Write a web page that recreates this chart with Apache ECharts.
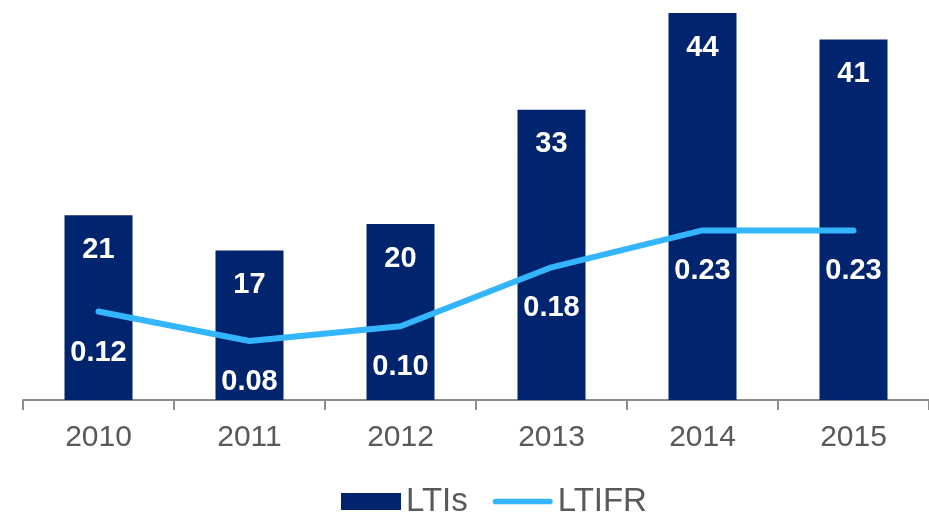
<!DOCTYPE html>
<html>
<head>
<meta charset="utf-8">
<script src="https://cdn.jsdelivr.net/npm/echarts@6/dist/echarts.min.js"></script>
<style>html,body{margin:0;padding:0;background:#fff;}#c{width:929px;height:514px;}</style>
</head>
<body>
<div id="c"></div>
<script>
const categories = ['2010', '2011', '2012', '2013', '2014', '2015'];
const ltis = [21, 17, 20, 33, 44, 41];
const ltifr = [0.12, 0.08, 0.10, 0.18, 0.23, 0.23];

const chart = echarts.init(document.getElementById('c'));
const font = 'Liberation Sans, Arial, sans-serif';
chart.setOption({
  animation: false,
  textStyle: { fontFamily: font },
  grid: { left: 23, right: 0, top: 13, bottom: 114, containLabel: false },
  legend: {
    top: 480,
    left: 336,
    itemGap: 25,
    itemWidth: 60,
    itemHeight: 17,
    symbolKeepAspect: true,
    textStyle: { fontSize: 33, color: '#595959', fontFamily: font },
    data: [
      { name: 'LTIs', icon: 'rect' },
      { name: 'LTIFR', icon: 'path://M3,0 L61,0 A3,3 0 0 1 61,6 L3,6 A3,3 0 0 1 3,0 Z' }
    ]
  },
  xAxis: {
    type: 'category',
    data: categories,
    boundaryGap: true,
    axisLine: { lineStyle: { color: '#8c8c8c', width: 2 } },
    axisTick: { show: true, length: 10, lineStyle: { color: '#8c8c8c', width: 2 } },
    axisLabel: { fontSize: 30, color: '#595959', margin: 23, fontFamily: font }
  },
  yAxis: [
    { type: 'value', min: 0, max: 44, show: false, splitLine: { show: false } },
    { type: 'value', min: 0, max: 0.525, show: false, splitLine: { show: false } }
  ],
  series: [
    {
      name: 'LTIs',
      type: 'bar',
      data: ltis,
      barWidth: 68,
      itemStyle: { color: '#00256E' },
      label: {
        show: true,
        position: 'insideTop',
        distance: 20,
        color: '#fff',
        fontWeight: 'bold',
        fontSize: 29,
        fontFamily: font
      }
    },
    {
      name: 'LTIFR',
      type: 'line',
      yAxisIndex: 1,
      data: ltifr,
      symbol: 'circle',
      symbolSize: 1,
      showSymbol: true,
      lineStyle: { color: '#33B5FF', width: 6, cap: 'round', join: 'round' },
      itemStyle: { color: '#33B5FF' },
      label: {
        show: true,
        position: 'bottom',
        distance: 26,
        color: '#fff',
        fontWeight: 'bold',
        fontSize: 29,
        fontFamily: font,
        formatter: p => p.value.toFixed(2)
      }
    }
  ]
});
</script>
</body>
</html>
